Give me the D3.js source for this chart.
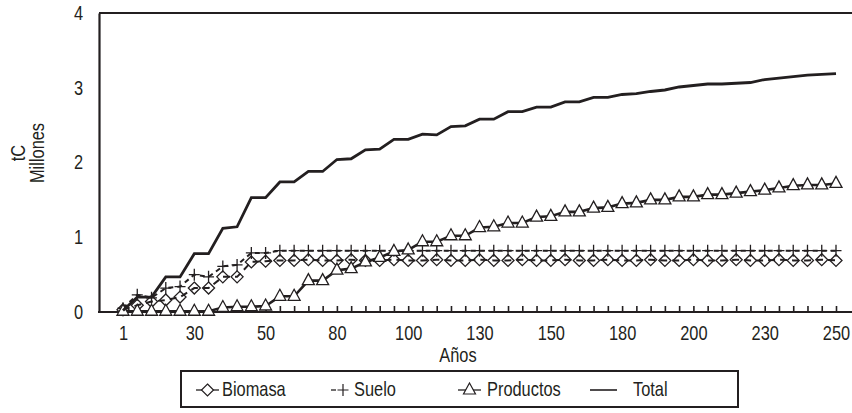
<!DOCTYPE html>
<html>
<head>
<meta charset="utf-8">
<script src="https://cdn.jsdelivr.net/npm/d3@7"></script>
<style>
  html, body { margin: 0; padding: 0; background: #fff; }
  svg { display: block; }
  text { font-family: "Liberation Sans", Arial, sans-serif; fill: #231f20; }
</style>
</head>
<body>
<svg id="chart" width="852" height="413"></svg>
<script>
// Categories along the horizontal axis (one per time step)
const categories = d3.range(51);
// Labelled steps and their year labels
const tickIndex  = [0, 5, 10, 15, 20, 25, 30, 35, 40, 45, 50];
const tickLabels = ["1", "30", "50", "80", "100", "130", "150", "180", "200", "230", "250"];
const yTicks = [0, 1, 2, 3, 4];

// Carbon stocks, millions of tC
const biomasa = [0.03, 0.09, 0.14, 0.16, 0.20, 0.32, 0.32, 0.47, 0.47, 0.67, 0.68,
  0.69, 0.69, 0.70, 0.69, 0.69, 0.70, 0.69, 0.69, 0.70, 0.69,
  0.69, 0.70, 0.69, 0.69, 0.70, 0.69, 0.69, 0.70, 0.69, 0.69,
  0.70, 0.69, 0.69, 0.70, 0.69, 0.69, 0.70, 0.69, 0.69, 0.70,
  0.69, 0.69, 0.70, 0.69, 0.69, 0.70, 0.69, 0.69, 0.70, 0.69];
const suelo = [0.05, 0.23, 0.19, 0.32, 0.34, 0.50, 0.47, 0.61, 0.63, 0.79, 0.79,
  0.82, 0.82, 0.82, 0.82, 0.82, 0.82, 0.82, 0.82, 0.82, 0.82,
  0.82, 0.82, 0.82, 0.82, 0.82, 0.82, 0.82, 0.82, 0.82, 0.82,
  0.82, 0.82, 0.82, 0.82, 0.82, 0.82, 0.82, 0.82, 0.82, 0.82,
  0.82, 0.82, 0.82, 0.82, 0.82, 0.82, 0.82, 0.82, 0.82, 0.82];
const productos = [0.01, 0.01, 0.01, 0.01, 0.01, 0.01, 0.01, 0.06, 0.07, 0.07, 0.08,
  0.21, 0.21, 0.42, 0.42, 0.56, 0.58, 0.67, 0.73, 0.81, 0.83,
  0.94, 0.94, 1.02, 1.02, 1.13, 1.14, 1.19, 1.19, 1.27, 1.28,
  1.34, 1.34, 1.39, 1.40, 1.45, 1.46, 1.50, 1.50, 1.54, 1.54,
  1.57, 1.57, 1.59, 1.61, 1.63, 1.66, 1.69, 1.70, 1.70, 1.72];
const total = [0.02, 0.20, 0.20, 0.47, 0.47, 0.78, 0.78, 1.12, 1.14, 1.53, 1.53,
  1.74, 1.74, 1.88, 1.88, 2.04, 2.05, 2.17, 2.18, 2.31, 2.31,
  2.38, 2.37, 2.48, 2.49, 2.58, 2.58, 2.68, 2.68, 2.74, 2.74,
  2.81, 2.81, 2.87, 2.87, 2.91, 2.92, 2.95, 2.97, 3.01, 3.03,
  3.05, 3.05, 3.06, 3.07, 3.11, 3.13, 3.15, 3.17, 3.18, 3.19];

const ink = "#231f20";
const narrow = 0.82;   // condensed lettering
const fontSize = 20;
const svg = d3.select("#chart");

const plot = { left: 99, top: 13, right: 852, bottom: 312 };
const x = d3.scalePoint().domain(categories).range([123, 836]);
const y = d3.scaleLinear().domain([0, 4]).range([plot.bottom, plot.top]);

// Place a condensed text label at (tx, ty), optionally rotated
function label(parent, tx, ty, str, anchor, rot) {
  return parent.append("text")
    .attr("transform", `translate(${tx},${ty})${rot ? ` rotate(${rot})` : ""} scale(${narrow},1)`)
    .attr("text-anchor", anchor || "start")
    .attr("font-size", fontSize)
    .text(str);
}

// Top rule of the plot frame
svg.append("line").attr("x1", plot.left).attr("x2", plot.right)
  .attr("y1", plot.top).attr("y2", plot.top)
  .attr("stroke", ink).attr("stroke-width", 2);

// Bottom axis: a small inward tick for every step, labels on selected ones
const labelOf = new Map(tickIndex.map((k, i) => [k, tickLabels[i]]));
const xAxis = svg.append("g")
  .attr("transform", `translate(0,${plot.bottom})`)
  .call(d3.axisBottom(x).tickSize(-6).tickPadding(14)
    .tickFormat(d => labelOf.has(d) ? labelOf.get(d) : ""));
xAxis.select(".domain").remove();
xAxis.selectAll(".tick line").attr("stroke", ink).attr("stroke-width", 1.6);
xAxis.selectAll(".tick text")
  .attr("font-size", fontSize).attr("font-family", null).attr("fill", ink)
  .attr("transform", `scale(${narrow},1)`);

svg.append("line").attr("x1", plot.left - 1).attr("x2", plot.right)
  .attr("y1", plot.bottom).attr("y2", plot.bottom)
  .attr("stroke", ink).attr("stroke-width", 2.2);

// Left axis
const yAxis = svg.append("g")
  .attr("transform", `translate(${plot.left},0)`)
  .call(d3.axisLeft(y).tickValues(yTicks).tickSize(0).tickPadding(19.5).tickFormat(d3.format("d")));
yAxis.select(".domain").attr("stroke", ink).attr("stroke-width", 2.2);
yAxis.selectAll(".tick text")
  .attr("font-size", fontSize).attr("font-family", null).attr("fill", ink)
  .attr("transform", `scale(${narrow},1)`);

// Axis titles
label(svg, 25, 153, "tC", "middle", -90);
label(svg, 44, 153, "Millones", "middle", -90);
label(svg, 458, 362, "Años", "middle");

// Marker shapes
const diamond = "M0,-6L6,0L0,6L-6,0Z";
const triangle = "M0,-7L6,4L-6,4Z";
const plus = "M-5.5,0H5.5M0,-6V6";

const line = d3.line().x((d, i) => x(i)).y(d => y(d));

const series = [
  { name: "Biomasa", values: biomasa, dash: "7,5", width: 2, marker: diamond, fill: "none" },
  { name: "Suelo", values: suelo, dash: "5,4", width: 2, marker: plus, fill: "none" },
  { name: "Productos", values: productos, dash: null, width: 2.6, marker: triangle, fill: "#fff" },
  { name: "Total", values: total, dash: null, width: 2.8, marker: null, fill: "none" }
];

series.forEach(s => {
  const g = svg.append("g");
  g.append("path").datum(s.values)
    .attr("d", line).attr("fill", "none")
    .attr("stroke", ink).attr("stroke-width", s.width)
    .attr("stroke-dasharray", s.dash)
    .attr("stroke-linejoin", "miter");
  if (s.marker) {
    g.selectAll("path.mk").data(s.values).join("path")
      .attr("class", "mk")
      .attr("d", s.marker)
      .attr("transform", (d, i) => `translate(${x(i)},${y(d)})`)
      .attr("fill", s.fill).attr("stroke", ink).attr("stroke-width", 1.3);
  }
});

// Legend
const lg = svg.append("g");
lg.append("rect").attr("x", 181).attr("y", 371).attr("width", 557).attr("height", 36)
  .attr("fill", "#fff").attr("stroke", ink).attr("stroke-width", 2);
const ly = 389;
const legendItems = [
  { s: series[0], x0: 196, x1: 219, mx: 207.5, tx: 222 },
  { s: series[1], x0: 331, x1: 336, mx: 343, tx: 354 },
  { s: series[2], x0: 458, x1: 481, mx: 469.5, tx: 487 },
  { s: series[3], x0: 590, x1: 617, mx: null, tx: 633 }
];
legendItems.forEach(it => {
  lg.append("line").attr("x1", it.x0).attr("x2", it.x1).attr("y1", ly + 1).attr("y2", ly + 1)
    .attr("stroke", ink).attr("stroke-width", it.s.name === "Total" ? 1.6 : 1.3);
  if (it.s.marker) {
    lg.append("path").attr("d", it.s.marker)
      .attr("transform", `translate(${it.mx},${ly + 1})`)
      .attr("fill", "#fff").attr("stroke", ink).attr("stroke-width", 1.2);
  }
  label(lg, it.tx, ly + 7, it.s.name, "start");
});
</script>
</body>
</html>
